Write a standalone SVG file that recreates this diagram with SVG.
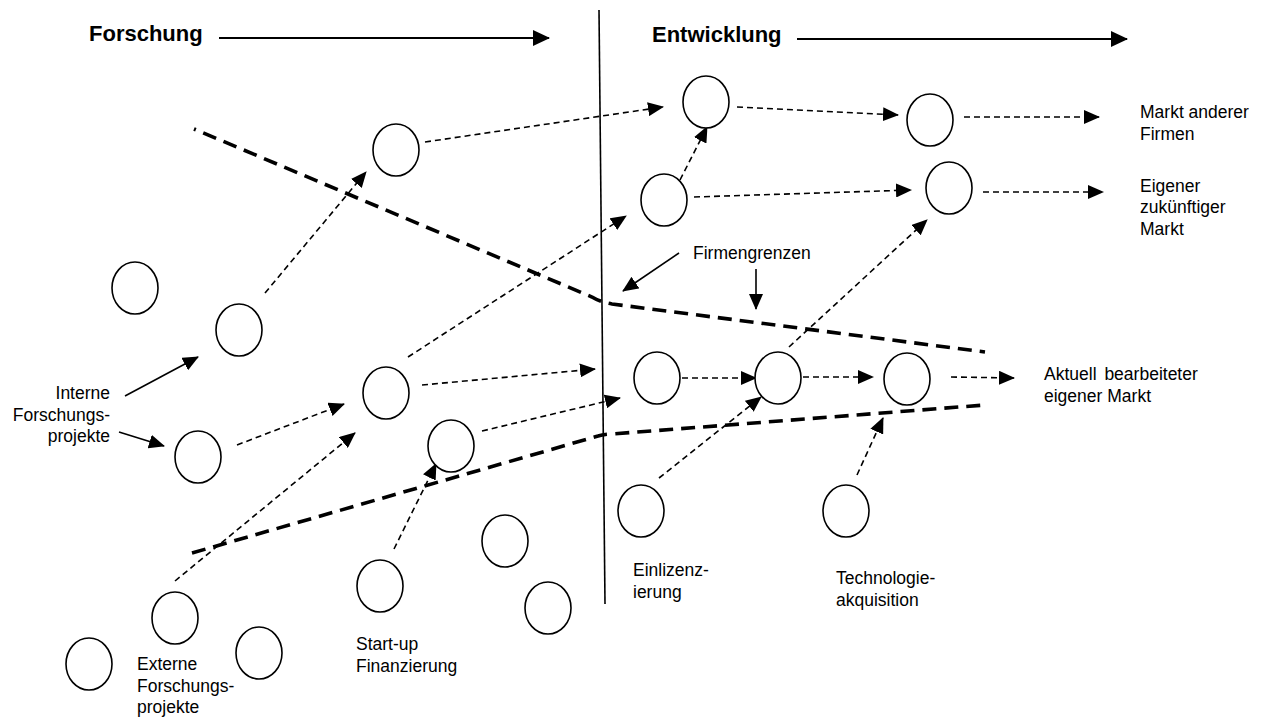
<svg xmlns="http://www.w3.org/2000/svg" width="1263" height="718" viewBox="0 0 1263 718">
  <style>
    text { font-family: "Liberation Sans", Arial, sans-serif; fill: #000; }
    .hdr { font-size: 22px; font-weight: bold; }
    .lbl { font-size: 17.5px; }
    .node { fill: #fff; stroke: #000; stroke-width: 1.6; }
    .flow { fill: none; stroke: #000; stroke-width: 1.6; stroke-dasharray: 6 4; marker-end: url(#head); }
    .solid { fill: none; stroke: #000; stroke-width: 1.6; marker-end: url(#head); }
    .axis { fill: none; stroke: #000; stroke-width: 2.2; marker-end: url(#bighead); }
    .bound { fill: none; stroke: #000; stroke-width: 3.6; stroke-dasharray: 14 8; }
  </style>
  <defs>
    <marker id="head" markerUnits="userSpaceOnUse" markerWidth="16" markerHeight="14" viewBox="0 0 16 14" refX="15" refY="7" orient="auto">
      <path d="M0,0 L16,7 L0,14 Z" fill="#000"/>
    </marker>
    <marker id="bighead" markerUnits="userSpaceOnUse" markerWidth="17" markerHeight="16" viewBox="0 0 17 16" refX="16" refY="8" orient="auto">
      <path d="M0,0 L17,8 L0,16 Z" fill="#000"/>
    </marker>
  </defs>

  <!-- phase headers -->
  <g id="header-forschung">
    <text class="hdr" x="89" y="41">Forschung</text>
    <line class="axis" x1="219" y1="38" x2="549" y2="38"/>
  </g>
  <g id="header-entwicklung">
    <text class="hdr" x="652" y="42">Entwicklung</text>
    <line class="axis" x1="797" y1="39" x2="1127" y2="39"/>
  </g>

  <!-- divider between research and development -->
  <line id="divider" x1="599" y1="10" x2="605" y2="604" stroke="#000" stroke-width="1.6"/>

  <!-- company boundaries -->
  <g id="boundaries">
    <path class="bound" d="M194,129 L592,297 Q600,302 612,304 L985,352" stroke-dashoffset="12"/>
    <path class="bound" d="M192,553 L598,436 Q604,434 612,434 L985,405"/>
  </g>

  <!-- connectors -->
  <g id="connectors">
    <line class="flow" x1="265" y1="293" x2="366" y2="172"/>
    <line class="flow" x1="425" y1="142" x2="663" y2="107"/>
    <line class="flow" x1="408" y1="357" x2="626" y2="216"/>
    <line class="flow" x1="237" y1="445" x2="344" y2="404"/>
    <line class="flow" x1="422" y1="385" x2="595" y2="369"/>
    <line class="flow" x1="482" y1="431" x2="620" y2="398"/>
    <line class="flow" x1="175" y1="581" x2="355" y2="433"/>
    <line class="flow" x1="394" y1="549" x2="436" y2="464"/>
    <line class="flow" x1="680" y1="180" x2="707" y2="127"/>
    <line class="flow" x1="737" y1="107" x2="898" y2="115"/>
    <line class="flow" x1="964" y1="117" x2="1099" y2="117"/>
    <line class="flow" x1="694" y1="197" x2="911" y2="190"/>
    <line class="flow" x1="983" y1="192" x2="1103" y2="192"/>
    <line class="flow" x1="789" y1="347" x2="927" y2="220"/>
    <line class="flow" x1="682" y1="378" x2="756" y2="378"/>
    <line class="flow" x1="803" y1="377" x2="873" y2="377"/>
    <line class="flow" x1="951" y1="377" x2="1014" y2="378"/>
    <line class="flow" x1="659" y1="478" x2="761" y2="397"/>
    <line class="flow" x1="857" y1="475" x2="883" y2="418"/>
    <!-- label pointers -->
    <line class="solid" x1="125" y1="396" x2="198" y2="357"/>
    <line class="solid" x1="119" y1="432" x2="164" y2="446"/>
    <line class="solid" x1="679" y1="253" x2="623" y2="291"/>
    <line class="solid" x1="756" y1="269" x2="756" y2="309"/>
  </g>

  <!-- project nodes -->
  <g id="n1"><ellipse class="node" cx="396" cy="150" rx="23" ry="26"/></g>
  <g id="n2"><ellipse class="node" cx="135" cy="288" rx="23" ry="26"/></g>
  <g id="n3"><ellipse class="node" cx="239" cy="330" rx="23" ry="26"/></g>
  <g id="n4"><ellipse class="node" cx="386" cy="393" rx="23" ry="26"/></g>
  <g id="n5"><ellipse class="node" cx="198" cy="457" rx="23" ry="26"/></g>
  <g id="n6"><ellipse class="node" cx="451" cy="446" rx="23" ry="26"/></g>
  <g id="n7"><ellipse class="node" cx="706" cy="102" rx="23" ry="26"/></g>
  <g id="n8"><ellipse class="node" cx="930" cy="120" rx="23" ry="26"/></g>
  <g id="n9"><ellipse class="node" cx="664" cy="200" rx="23" ry="26"/></g>
  <g id="n10"><ellipse class="node" cx="949" cy="188" rx="23" ry="26"/></g>
  <g id="n11"><ellipse class="node" cx="657" cy="378" rx="23" ry="26"/></g>
  <g id="n12"><ellipse class="node" cx="778" cy="378" rx="23" ry="26"/></g>
  <g id="n13"><ellipse class="node" cx="907" cy="379" rx="23" ry="26"/></g>
  <g id="n14"><ellipse class="node" cx="641" cy="511" rx="23" ry="26"/></g>
  <g id="n15"><ellipse class="node" cx="846" cy="511" rx="23" ry="26"/></g>
  <g id="n16"><ellipse class="node" cx="89" cy="664" rx="23" ry="26"/></g>
  <g id="n17"><ellipse class="node" cx="175" cy="618" rx="23" ry="26"/></g>
  <g id="n18"><ellipse class="node" cx="259" cy="653" rx="23" ry="26"/></g>
  <g id="n19"><ellipse class="node" cx="380" cy="586" rx="23" ry="26"/></g>
  <g id="n20"><ellipse class="node" cx="505" cy="541" rx="23" ry="26"/></g>
  <g id="n21"><ellipse class="node" cx="548" cy="608" rx="23" ry="26"/></g>

  <!-- labels -->
  <g id="label-markt-andere">
    <text class="lbl" x="1140" y="118">Markt anderer</text>
    <text class="lbl" x="1140" y="139.5">Firmen</text>
  </g>
  <g id="label-zukuenftig">
    <text class="lbl" x="1140" y="191.5">Eigener</text>
    <text class="lbl" x="1140" y="213">zukünftiger</text>
    <text class="lbl" x="1140" y="234.5">Markt</text>
  </g>
  <g id="label-aktuell">
    <text class="lbl" x="1044" y="380" word-spacing="3">Aktuell bearbeiteter</text>
    <text class="lbl" x="1044" y="401.5">eigener Markt</text>
  </g>
  <g id="label-firmengrenzen">
    <text class="lbl" x="693" y="259">Firmengrenzen</text>
  </g>
  <g id="label-intern" text-anchor="end">
    <text class="lbl" x="110" y="399">Interne</text>
    <text class="lbl" x="110" y="420.5">Forschungs-</text>
    <text class="lbl" x="110" y="442">projekte</text>
  </g>
  <g id="label-extern">
    <text class="lbl" x="137" y="670">Externe</text>
    <text class="lbl" x="137" y="691.5">Forschungs-</text>
    <text class="lbl" x="137" y="713">projekte</text>
  </g>
  <g id="label-startup">
    <text class="lbl" x="356" y="650">Start-up</text>
    <text class="lbl" x="356" y="671.5">Finanzierung</text>
  </g>
  <g id="label-einlizenz">
    <text class="lbl" x="633" y="576">Einlizenz-</text>
    <text class="lbl" x="633" y="597.5">ierung</text>
  </g>
  <g id="label-technologie">
    <text class="lbl" x="836" y="584">Technologie-</text>
    <text class="lbl" x="836" y="605.5">akquisition</text>
  </g>
</svg>
